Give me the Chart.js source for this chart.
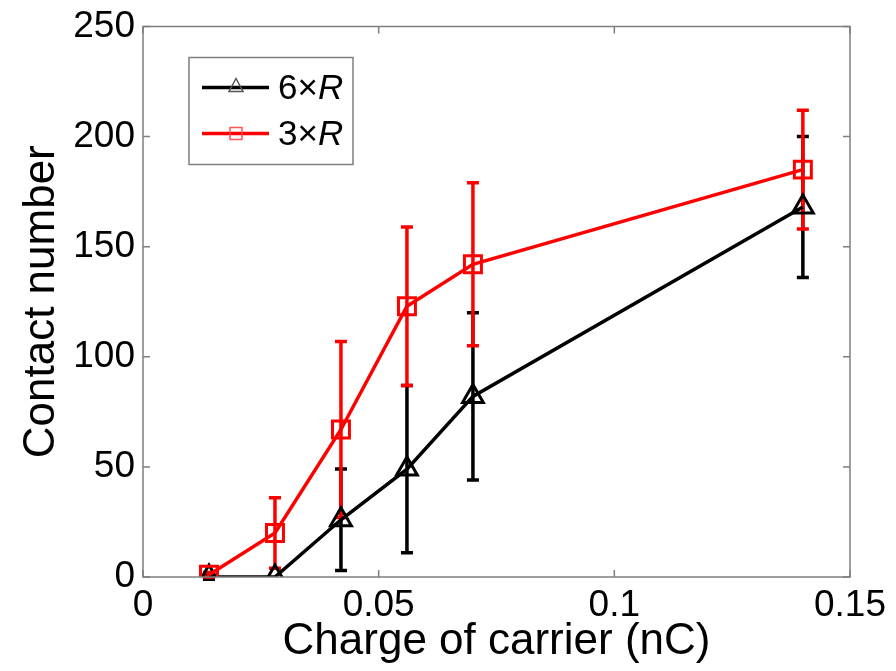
<!DOCTYPE html>
<html>
<head>
<meta charset="utf-8">
<script src="https://cdn.jsdelivr.net/npm/chart.js@4"></script>
<style>
  html, body { margin: 0; padding: 0; background: #fff; }
  #wrap { width: 896px; height: 671px; }
</style>
</head>
<body>
<div id="wrap"><canvas id="contactChart" width="896" height="671"></canvas></div>
<script>
// charge of carrier (nC)
const charge = [0.014, 0.028, 0.042, 0.056, 0.07, 0.14];
// 6xR series : mean and error
const contact6R = [0, 0, 26, 49, 82, 168];
const err6R = [1, 0, 23, 38, 38, 32];
// 3xR series
const contact3R = [1, 20, 67, 123, 142, 185];
const err3R = [1, 16, 40, 36, 37, 27];

const xTicks = [0, 0.05, 0.1, 0.15];
const yTicks = [0, 50, 100, 150, 200, 250];

const FONT = "'Liberation Sans', Arial, sans-serif";

function pts(xs, ys) {
  return xs.map((x, i) => ({ x: x, y: ys[i] }));
}

// error bars, drawn under the markers
const errorBars = {
  id: 'errorBars',
  beforeDatasetsDraw(chart) {
    const ctx = chart.ctx;
    const xs = chart.scales.x, ys = chart.scales.y;
    const sets = [[contact6R, err6R, '#000000'], [contact3R, err3R, '#ff0000']];
    ctx.save();
    ctx.lineWidth = 3.5;
    sets.forEach(([vals, errs, col]) => {
      ctx.strokeStyle = col;
      vals.forEach((v, i) => {
        if (!errs[i]) return;
        const px = xs.getPixelForValue(charge[i]);
        const top = ys.getPixelForValue(v + errs[i]);
        const bot = ys.getPixelForValue(v - errs[i]);
        ctx.beginPath();
        ctx.moveTo(px, top); ctx.lineTo(px, bot);
        ctx.moveTo(px - 6, top); ctx.lineTo(px + 6, top);
        ctx.moveTo(px - 6, bot); ctx.lineTo(px + 6, bot);
        ctx.stroke();
      });
    });
    ctx.restore();
  }
};

// matlab style box with inward ticks + legend
const boxAndLegend = {
  id: 'boxAndLegend',
  afterDraw(chart) {
    const ctx = chart.ctx;
    const a = chart.chartArea;
    const xs = chart.scales.x, ys = chart.scales.y;
    ctx.save();
    ctx.strokeStyle = '#7f7f7f';
    ctx.lineWidth = 1.5;
    ctx.strokeRect(a.left, a.top, a.right - a.left, a.bottom - a.top);
    ctx.beginPath();
    xTicks.forEach(t => {
      const px = xs.getPixelForValue(t);
      ctx.moveTo(px, a.bottom); ctx.lineTo(px, a.bottom - 7);
      ctx.moveTo(px, a.top); ctx.lineTo(px, a.top + 7);
    });
    yTicks.forEach(t => {
      const py = ys.getPixelForValue(t);
      ctx.moveTo(a.left, py); ctx.lineTo(a.left + 7, py);
      ctx.moveTo(a.right, py); ctx.lineTo(a.right - 7, py);
    });
    ctx.stroke();

    // legend
    const lx = a.left + 46, ly = a.top + 31;
    ctx.fillStyle = '#fff';
    ctx.fillRect(lx, ly, 164, 107);
    ctx.strokeRect(lx, ly, 164, 107);
    const rows = [
      { y: ly + 30, col: '#000', shape: 'tri', txt: '6' },
      { y: ly + 76, col: '#ff0000', shape: 'sq', txt: '3' }
    ];
    rows.forEach(r => {
      ctx.strokeStyle = r.col;
      ctx.lineWidth = 3.5;
      ctx.beginPath();
      ctx.moveTo(lx + 13, r.y); ctx.lineTo(lx + 80, r.y);
      ctx.stroke();
      ctx.lineWidth = 1.5;
      ctx.fillStyle = '#fff';
      const cx = lx + 47;
      ctx.beginPath();
      if (r.shape === 'tri') {
        ctx.moveTo(cx, r.y - 9); ctx.lineTo(cx + 7, r.y + 4); ctx.lineTo(cx - 7, r.y + 4); ctx.closePath();
        ctx.strokeStyle = '#555';
      } else {
        ctx.rect(cx - 6, r.y - 6, 12, 12);
        ctx.strokeStyle = '#ff5555';
      }
      ctx.stroke();
      ctx.fillStyle = '#000';
      ctx.textBaseline = 'middle';
      ctx.textAlign = 'left';
      ctx.font = '35px ' + FONT;
      let tx = lx + 89;
      const s = r.txt + '\u00d7';
      ctx.fillText(s, tx, r.y + 2);
      tx += ctx.measureText(s).width;
      ctx.font = 'italic 35px ' + FONT;
      ctx.fillText('R', tx, r.y + 2);
    });
    ctx.restore();
  }
};

new Chart(document.getElementById('contactChart'), {
  type: 'scatter',
  data: {
    datasets: [{
      label: '6\u00d7R',
      data: pts(charge, contact6R),
      showLine: true,
      borderColor: '#000',
      borderWidth: 3.5,
      pointStyle: 'triangle',
      pointRadius: 12,
      pointBorderWidth: 3,
      pointBorderColor: '#000',
      pointBackgroundColor: 'rgba(0,0,0,0)',
      order: 2
    }, {
      label: '3\u00d7R',
      data: pts(charge, contact3R),
      showLine: true,
      borderColor: '#ff0000',
      borderWidth: 3.5,
      pointStyle: 'rect',
      pointRadius: 12,
      pointBorderWidth: 3,
      pointBorderColor: '#ff0000',
      pointBackgroundColor: 'rgba(0,0,0,0)',
      order: 1
    }]
  },
  options: {
    responsive: false,
    animation: false,
    layout: { padding: { left: 0, right: 44, top: 22, bottom: 0 } },
    plugins: { legend: { display: false }, tooltip: { enabled: false } },
    scales: {
      x: {
        type: 'linear', min: 0, max: 0.15,
        afterFit(s) { s.height = 94; },
        afterBuildTicks(s) { s.ticks = xTicks.map(v => ({ value: v })); },
        grid: { display: false, drawTicks: false },
        border: { display: false },
        ticks: {
          padding: 10, color: '#000', font: { family: FONT, size: 37, lineHeight: 1 },
          callback: v => String(+v.toFixed(2))
        },
        title: { display: true, text: 'Charge of carrier (nC)', color: '#000',
          font: { family: FONT, size: 44 }, padding: { top: 0, bottom: 3 } }
      },
      y: {
        type: 'linear', min: 0, max: 250,
        afterFit(s) { s.width = 143; },
        afterBuildTicks(s) { s.ticks = yTicks.map(v => ({ value: v })); },
        grid: { display: false, drawTicks: false },
        border: { display: false },
        ticks: { padding: 8, color: '#000', font: { family: FONT, size: 37, lineHeight: 1 } },
        title: { display: true, text: 'Contact number', color: '#000',
          font: { family: FONT, size: 44 }, padding: { top: 15, bottom: 0 } }
      }
    }
  },
  plugins: [errorBars, boxAndLegend]
});
</script>
</body>
</html>
